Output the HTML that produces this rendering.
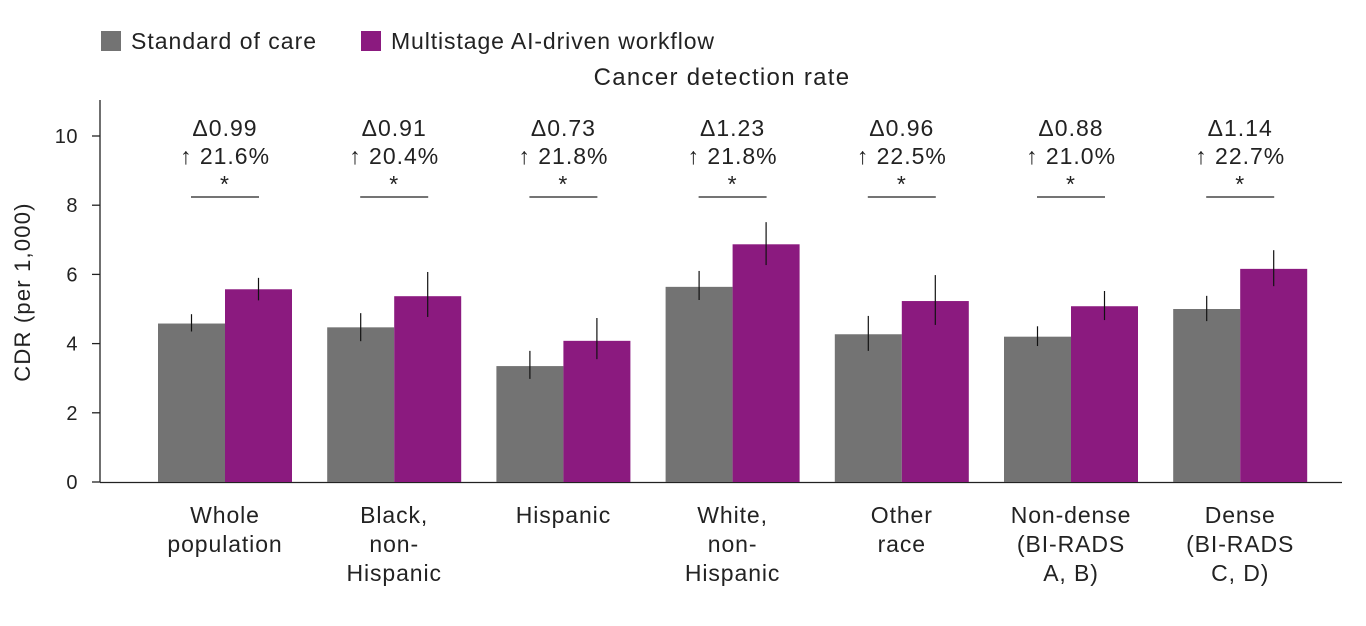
<!DOCTYPE html>
<html><head><meta charset="utf-8">
<style>
body{margin:0;background:#fff;}
svg{display:block;font-family:"Liberation Sans",sans-serif;}
</style></head>
<body>
<svg id="chart" width="1366" height="626">
  <g>
    <rect x="101" y="31" width="20" height="20" fill="#737373"/>
    <text x="131" y="49" font-size="23" letter-spacing="1" fill="#222">Standard of care</text>
    <rect x="361" y="31" width="20" height="20" fill="#8b1a7f"/>
    <text x="391" y="49" font-size="23" letter-spacing="0.9" fill="#222">Multistage AI-driven workflow</text>
  </g>
  <text x="722" y="85" font-size="24" letter-spacing="1.3" text-anchor="middle" fill="#222">Cancer detection rate</text>
  <text transform="translate(30,292) rotate(-90)" font-size="22" letter-spacing="1.2" text-anchor="middle" fill="#222">CDR (per 1,000)</text>
  <g id="plot"></g>
</svg>
<script>
const categories=[["Whole","population"],["Black,","non-","Hispanic"],["Hispanic"],["White,","non-","Hispanic"],["Other","race"],["Non-dense","(BI-RADS","A, B)"],["Dense","(BI-RADS","C, D)"]];
const standardValues=[4.58,4.47,3.35,5.64,4.27,4.2,5.0];
const standardLow=[4.35,4.07,2.98,5.26,3.79,3.93,4.65];
const standardHigh=[4.85,4.88,3.79,6.1,4.8,4.5,5.38];
const aiValues=[5.57,5.37,4.08,6.87,5.23,5.08,6.16];
const aiLow=[5.25,4.77,3.55,6.27,4.54,4.68,5.66];
const aiHigh=[5.9,6.07,4.74,7.51,5.98,5.52,6.7];
const deltaLabels=["Δ0.99","Δ0.91","Δ0.73","Δ1.23","Δ0.96","Δ0.88","Δ1.14"];
const pctLabels=["↑ 21.6%","↑ 20.4%","↑ 21.8%","↑ 21.8%","↑ 22.5%","↑ 21.0%","↑ 22.7%"];
const yTicks=[0,2,4,6,8,10];

const NS="http://www.w3.org/2000/svg";
const g=document.getElementById('plot');
const y=v=>482-v*34.6;
const gx=i=>158+i*169.2;
const bw=67;
function mk(t,a,p){const e=document.createElementNS(NS,t);for(const k in a)e.setAttribute(k,a[k]);(p||g).appendChild(e);return e;}

let e=mk('line',{x1:100,y1:100,x2:100,y2:482.5,stroke:'#222','stroke-width':1.3});


e=mk('line',{x1:100,y1:482.5,x2:1342,y2:482.5,stroke:'#222','stroke-width':1.3});


yTicks.forEach(t=>{
  let l=mk('line',{x1:92,x2:100,y1:y(t),y2:y(t),stroke:'#222','stroke-width':1.3});
  
  
  let tx=mk('text',{x:78,y:y(t)+7,'font-size':20,'letter-spacing':0.5,'text-anchor':'end',fill:'#222'});
  tx.textContent=t;
  
  
});
function bar(x,v,lo,hi,col,name){
  let r=mk('rect',{x:x,y:y(v),width:bw,height:y(0)-y(v),fill:col});
  
  
  let l=mk('line',{x1:x+bw/2,x2:x+bw/2,y1:y(hi),y2:y(lo),stroke:'#111','stroke-width':1.2});
  
  
}
categories.forEach((c,i)=>{
  const x0=gx(i), cx=x0+bw;
  bar(x0,standardValues[i],standardLow[i],standardHigh[i],'#737373','bar-standard');
  bar(x0+bw,aiValues[i],aiLow[i],aiHigh[i],'#8b1a7f','bar-ai');
  c.forEach((s,k)=>{
    let t=mk('text',{x:cx,y:523+k*29,'font-size':23,'letter-spacing':0.9,'text-anchor':'middle',fill:'#222'});
    t.textContent=s;
    
    
  });
  [[deltaLabels[i],136],[pctLabels[i],164],["*",192]].forEach(([s,yy])=>{
    let t=mk('text',{x:cx,y:yy,'font-size':23,'letter-spacing':1,'text-anchor':'middle',fill:'#222'});
    t.textContent=s;
    
    
  });
  let l=mk('line',{x1:cx-34,x2:cx+34,y1:197,y2:197,stroke:'#222','stroke-width':1.2});
  
  
});
</script>
</body></html>
